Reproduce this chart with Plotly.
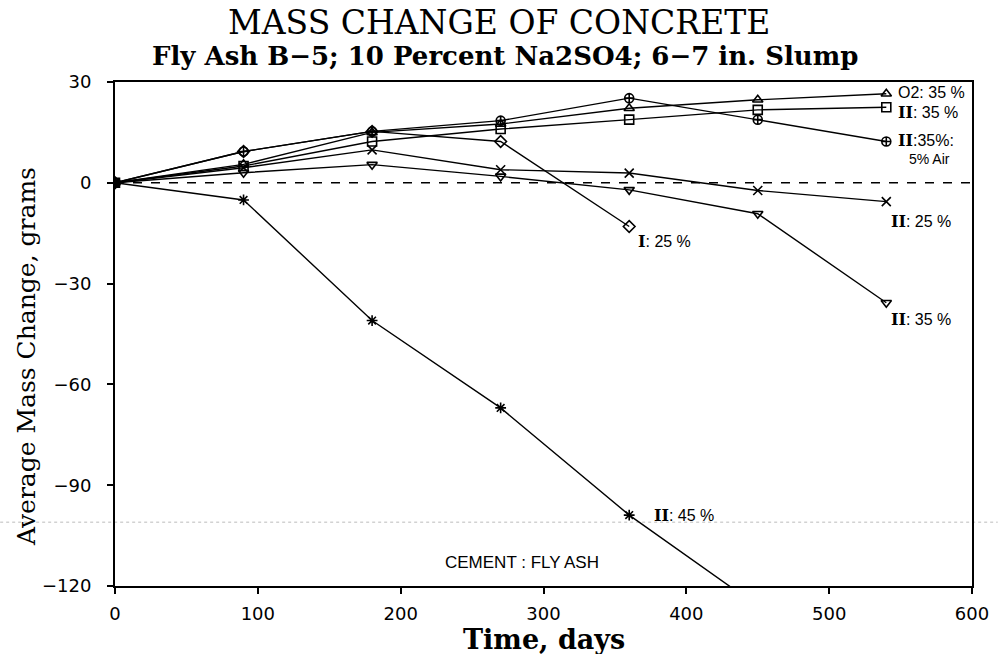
import plotly.graph_objects as go

days = [0, 90, 180, 270, 360, 450, 540]

o2_35 = [0, 5.5, 15.0, 17.5, 22.2, 24.7, 26.5]
ii_35_sq = [0, 5.0, 12.3, 16.0, 18.8, 21.7, 22.5]
ii_35_air = [0, 9.3, 15.3, 18.5, 25.2, 18.8, 12.3]
i_25 = [0, 9.3, 15.3, 12.3, -13.0]
ii_25 = [0, 4.5, 9.8, 3.9, 2.9, -2.3, -5.6]
ii_35_tri = [0, 3.0, 5.4, 1.9, -2.1, -9.2, -35.7]
ii_45 = [0, -5.1, -41.0, -67.0, -98.9, -126.0]

series = [
    (days, o2_35, "triangle-up-open", "O2: 35%"),
    (days, ii_35_sq, "square-open", "II: 35%"),
    (days, ii_35_air, "circle-cross-open", "II: 35%: 5% Air"),
    (days[:5], i_25, "diamond-open", "I: 25%"),
    (days, ii_25, "x-thin-open", "II: 25%"),
    (days, ii_35_tri, "triangle-down-open", "II: 35% (b)"),
    (days[:6], ii_45, "asterisk-open", "II: 45%"),
]

x_ticks = [0, 100, 200, 300, 400, 500, 600]
y_ticks = [30, 0, -30, -60, -90, -120]
y_tick_text = ["30", "0", "\u221230", "\u221260", "\u221290", "\u2212120"]

fig = go.Figure()

fig.add_shape(type="line", xref="x", yref="y", x0=0, x1=600, y0=0, y1=0,
              line=dict(color="black", width=1.6, dash="dash"), layer="below")
fig.add_shape(type="line", xref="paper", yref="y", x0=-0.134, x1=1.03, y0=-101, y1=-101,
              line=dict(color="#bbbbbb", width=1, dash="dot"), layer="below")

for xs, ys, sym, name in series:
    fig.add_trace(go.Scatter(
        x=xs, y=ys, mode="lines+markers", name=name,
        line=dict(color="black", width=1.4),
        marker=dict(symbol=sym, size=9, color="black", line=dict(color="black", width=1.6)),
        cliponaxis=True, showlegend=False,
    ))

SER = "DejaVu Serif"
SANS = "DejaVu Sans"
RN = '<span style="font-family:DejaVu Serif"><b>II</b></span>'
R1 = '<span style="font-family:DejaVu Serif"><b>I</b></span>'

ann = [
    dict(x=547, y=26.8, text="O2: 35 %", xanchor="left"),
    dict(x=547, y=21.0, text=RN + ": 35 %", xanchor="left"),
    dict(x=547, y=12.5, text=RN + ":35%:", xanchor="left"),
    dict(x=570, y=7.0, text="5% Air", xanchor="center", size=14),
    dict(x=542, y=-11.5, text=RN + ": 25 %", xanchor="left"),
    dict(x=542, y=-40.8, text=RN + ": 35 %", xanchor="left"),
    dict(x=365, y=-17.5, text=R1 + ": 25 %", xanchor="left"),
    dict(x=376, y=-99.0, text=RN + ": 45 %", xanchor="left"),
    dict(x=285, y=-113.0, text="CEMENT : FLY ASH", xanchor="center", size=17),
]
for a in ann:
    fig.add_annotation(x=a["x"], y=a["y"], xref="x", yref="y", text=a["text"],
                       xanchor=a["xanchor"], yanchor="middle", showarrow=False,
                       font=dict(family=a.get("family", "Liberation Sans"), size=a.get("size", 16), color="black"))

fig.add_annotation(x=0.448, y=1.119, xref="paper", yref="paper", text="MASS CHANGE OF CONCRETE",
                   showarrow=False, xanchor="center", yanchor="middle",
                   font=dict(family=SER, size=33, color="black"))
fig.add_annotation(x=0.455, y=1.052, xref="paper", yref="paper",
                   text="<b>Fly Ash B\u22125; 10 Percent Na2SO4; 6\u22127 in. Slump</b>",
                   showarrow=False, xanchor="center", yanchor="middle",
                   font=dict(family=SER, size=26, color="black"))
fig.add_annotation(x=0.5, y=-0.107, xref="paper", yref="paper", text="<b>Time, days</b>",
                   showarrow=False, xanchor="center", yanchor="middle",
                   font=dict(family=SER, size=27, color="black"))
fig.add_annotation(x=-0.104, y=0.456, xref="paper", yref="paper", text="Average Mass Change, grams",
                   showarrow=False, xanchor="center", yanchor="middle", textangle=-90,
                   font=dict(family=SER, size=25, color="black"))

fig.update_layout(
    width=1001, height=654,
    margin=dict(l=115, r=24, t=82, b=68),
    paper_bgcolor="white", plot_bgcolor="white",
    xaxis=dict(range=[0, 600], tickvals=x_ticks, ticks="outside", ticklen=6, tickwidth=1.5,
               tickcolor="black", showgrid=False, zeroline=False, showline=True,
               linecolor="black", linewidth=2, mirror=True, ticklabelstandoff=4,
               tickfont=dict(family=SANS, size=18, color="black")),
    yaxis=dict(range=[-120, 30], tickvals=y_ticks, ticktext=y_tick_text, ticks="outside",
               ticklen=6, tickwidth=1.5, tickcolor="black", showgrid=False, zeroline=False,
               showline=True, linecolor="black", linewidth=2, mirror=True, ticklabelstandoff=12,
               tickfont=dict(family=SANS, size=18, color="black")),
)

fig.write_html("out.html", config={"displayModeBar": False},
               post_script="document.body.style.margin='0';")
